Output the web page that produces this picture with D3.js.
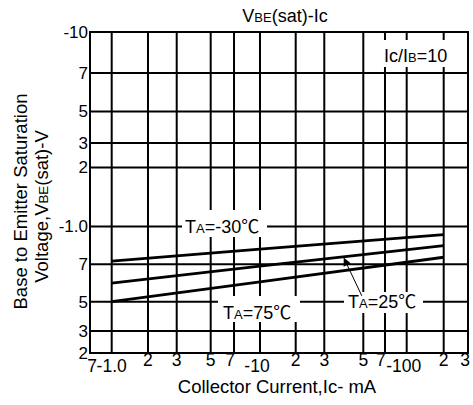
<!DOCTYPE html>
<html><head><meta charset="utf-8">
<script src="https://cdn.jsdelivr.net/npm/d3@7"></script>
<style>
html,body{margin:0;padding:0;background:#fff;}
svg text{font-family:"Liberation Sans",Arial,"Noto Sans CJK SC",sans-serif;fill:#000;}
</style></head>
<body><svg id="c" width="473" height="405"></svg>
<script>
// ---- data ----
const xTickValues = [0.7, 1, 2, 3, 5, 7, 10, 20, 30, 50, 70, 100, 200, 300];
const xTickLabels = ["7", "-1.0", "2", "3", "5", "7", "-10", "2", "3", "5", "7", "-100", "2", "3"];
const yTickValues = [10, 7, 5, 3, 2, 1, 0.7, 0.5, 0.3, 0.2];
const yTickLabels = ["-10", "7", "5", "3", "2", "-1.0", "7", "5", "3", "2"];
const ic = [1, 10, 200];
const vbeM30 = [0.726, 0.82, 0.936];
const vbe25 = [0.60, 0.69, 0.848];
const vbe75 = [0.50, 0.606, 0.756];

// ---- layout (hand-drawn, non-uniform grid spacing of the original sheet) ----
const M = {left: 90, top: 32, right: 468, bottom: 353};
const W = M.right - M.left, H = M.bottom - M.top;
const xGridFrac = [0, 0.0574, 0.1534, 0.2294, 0.3193, 0.381, 0.4497, 0.5442, 0.6198, 0.723, 0.7804, 0.8378, 0.9357, 1];
const yGridFrac = [0, 0.128, 0.2474, 0.346, 0.422, 0.606, 0.7237, 0.8403, 0.9317, 1];
const FS = 18;

const x = d3.scaleLinear().domain(xTickValues).range(xGridFrac.map(f => M.left + f * W));
const y = d3.scaleLinear().domain(yTickValues).range(yGridFrac.map(f => M.top + f * H));

const svg = d3.select("#c");

// grid
const g = svg.append("g");
g.selectAll("line.v").data(xTickValues).join("line")
  .attr("x1", d => x(d)).attr("x2", d => x(d)).attr("y1", M.top).attr("y2", M.bottom)
  .attr("stroke", "#000").attr("stroke-width", 2);
g.selectAll("line.h").data(yTickValues).join("line")
  .attr("x1", M.left).attr("x2", M.right).attr("y1", d => y(d)).attr("y2", d => y(d))
  .attr("stroke", "#000").attr("stroke-width", 2);
svg.append("rect").attr("x", M.left).attr("y", M.top).attr("width", W).attr("height", H)
  .attr("fill", "none").attr("stroke", "#000").attr("stroke-width", 2);

// text with small-caps subscripts
function rich(sel, parts, size) {
  parts.forEach(p => {
    sel.append("tspan").text(p[0]).attr("font-size", p[1] ? size * 0.72 : size);
  });
  return sel;
}

// white label boxes that interrupt the grid
function box(x0, y0, w, h) {
  svg.append("rect").attr("x", x0).attr("y", y0).attr("width", w).attr("height", h).attr("fill", "#fff");
}
box(377, 40, 88, 27);
box(182, 210, 85, 27);
box(218, 296, 82, 26);
box(344, 292, 79, 21);

// data lines
const line = d3.line().x(d => x(d[0])).y(d => y(d[1]));
[vbeM30, vbe25, vbe75].forEach(s => {
  svg.append("path").datum(ic.map((c, i) => [c, s[i]])).attr("d", line)
    .attr("fill", "none").attr("stroke", "#000").attr("stroke-width", 2.8);
});

// annotations
rich(svg.append("text").attr("x", 384).attr("y", 61.5), [["I"], ["c"], ["/I"], ["B", 1], ["=10"]], FS);
rich(svg.append("text").attr("x", 185).attr("y", 233), [["T"], ["A", 1], ["=-30℃"]], FS);
rich(svg.append("text").attr("x", 223).attr("y", 318.5), [["T"], ["A", 1], ["=75℃"]], FS);
rich(svg.append("text").attr("x", 348).attr("y", 308), [["T"], ["A", 1], ["=25℃"]], FS);

// arrow to TA=25 line
const arrowIc = 40;
const px = x(arrowIc);
const i0 = 1, t = (px - x(ic[i0])) / (x(ic[i0 + 1]) - x(ic[i0]));
const py = y(vbe25[i0]) + t * (y(vbe25[i0 + 1]) - y(vbe25[i0]));
svg.append("defs").append("marker").attr("id", "ah").attr("viewBox", "0 0 10 10")
  .attr("refX", 10).attr("refY", 5).attr("markerWidth", 13).attr("markerHeight", 8)
  .attr("markerUnits", "userSpaceOnUse").attr("orient", "auto")
  .append("path").attr("d", "M0,0 L10,5 L0,10 z").attr("fill", "#000");
svg.append("line").attr("x1", px + 18).attr("y1", py + 39).attr("x2", px).attr("y2", py + 1)
  .attr("stroke", "#000").attr("stroke-width", 1).attr("marker-end", "url(#ah)");

// y tick labels
svg.selectAll("text.yt").data(yTickValues).join("text")
  .attr("x", M.left - 2).attr("y", d => y(d)).attr("dy", "0.35em")
  .attr("text-anchor", "end").attr("font-size", 17).text((d, i) => yTickLabels[i]);

// x tick labels
svg.selectAll("text.xt").data(xTickValues).join("text")
  .attr("x", d => x(d)).attr("y", (d, i) => /^-/.test(xTickLabels[i]) || i === 0 ? 372 : 366)
  .attr("text-anchor", "middle").attr("font-size", 17.5)
  .attr("dx", (d, i) => i === 0 ? 2 : xTickLabels[i] === "7" ? -4 : (i === xTickLabels.length - 1 ? -3 : (/^-1/.test(xTickLabels[i]) && i > 1 ? -3 : 0)))
  .text((d, i) => xTickLabels[i]);

// title
rich(svg.append("text").attr("x", 285).attr("y", 21.5).attr("text-anchor", "middle"),
  [["V"], ["BE", 1], ["(sat)-Ic"]], FS);

// axis titles
svg.append("text").attr("x", 277).attr("y", 392.5).attr("text-anchor", "middle").attr("font-size", 18.5)
  .text("Collector Current,Ic- mA");
svg.append("text").attr("transform", "translate(27,201.5) rotate(-90)").attr("text-anchor", "middle")
  .attr("font-size", 18.5).text("Base  to Emitter Saturation");
rich(svg.append("text").attr("transform", "translate(48,206.5) rotate(-90)").attr("text-anchor", "middle"),
  [["Voltage,V"], ["BE", 1], ["(sat)-V"]], 18.5);
</script></body></html>
